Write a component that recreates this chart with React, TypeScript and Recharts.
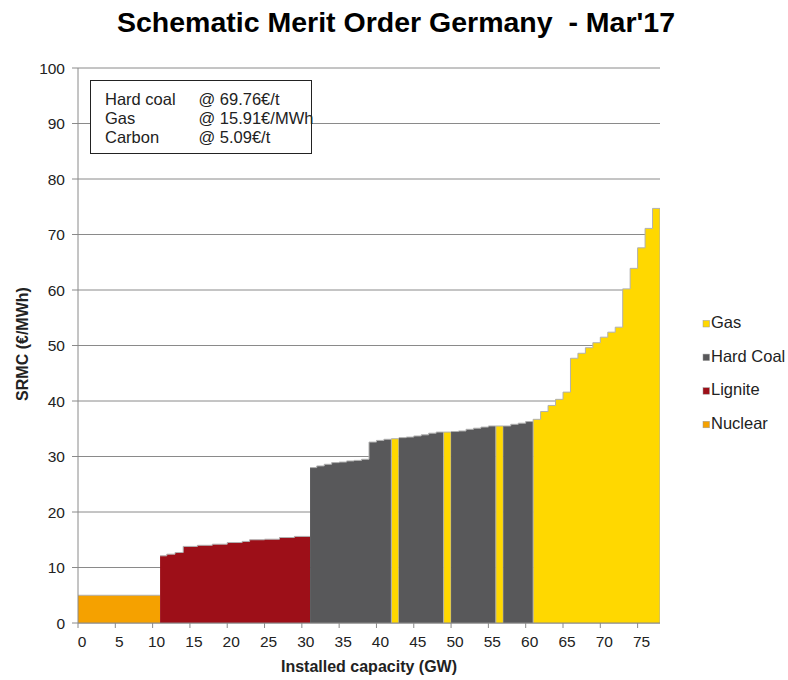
import React from 'react';
import { ComposedChart, Area, XAxis, YAxis, CartesianGrid } from 'recharts';

// Merit order units: start of each unit on the cumulative capacity axis (GW), SRMC (€/MWh) and fuel
const unitStart = [
  0,
  11.0, 11.9, 13.0, 14.1, 16.0, 18.0, 20.0, 22.0, 23.0, 25.0, 27.0, 29.0,
  31.1, 32.0, 33.0, 34.0, 35.0, 36.0, 37.0, 38.0, 39.0, 40.0, 41.0,
  42.0,
  43.0, 44.0, 45.0, 46.0, 47.0, 48.0,
  49.0,
  50.0, 51.0, 52.0, 53.0, 54.0, 55.0,
  56.0,
  57.0, 58.0, 59.0, 60.0,
  61.0, 62.0, 63.0, 64.0, 65.0, 66.0, 67.0, 68.0, 69.0, 70.0, 71.0, 72.0, 73.0, 74.0, 75.0, 76.0, 77.0,
];
const unitSrmc = [
  5.0,
  12.1, 12.4, 12.7, 13.8, 14.0, 14.2, 14.5, 14.7, 15.0, 15.1, 15.4, 15.6,
  28.0, 28.3, 28.6, 28.9, 29.0, 29.2, 29.3, 29.5, 32.6, 32.9, 33.1,
  33.2,
  33.4, 33.5, 33.7, 33.9, 34.2, 34.4,
  34.4,
  34.5, 34.6, 34.9, 35.1, 35.3, 35.5,
  35.5,
  35.5, 35.8, 36.0, 36.3,
  36.7, 38.1, 39.2, 40.3, 41.6, 47.7, 48.6, 49.6, 50.5, 51.5, 52.4, 53.3, 60.2, 63.9, 67.6, 71.1, 74.7,
];
const unitFuel = [
  'Nuclear',
  'Lignite', 'Lignite', 'Lignite', 'Lignite', 'Lignite', 'Lignite', 'Lignite', 'Lignite', 'Lignite', 'Lignite', 'Lignite', 'Lignite',
  'Hard Coal', 'Hard Coal', 'Hard Coal', 'Hard Coal', 'Hard Coal', 'Hard Coal', 'Hard Coal', 'Hard Coal', 'Hard Coal', 'Hard Coal', 'Hard Coal',
  'Gas',
  'Hard Coal', 'Hard Coal', 'Hard Coal', 'Hard Coal', 'Hard Coal', 'Hard Coal',
  'Gas',
  'Hard Coal', 'Hard Coal', 'Hard Coal', 'Hard Coal', 'Hard Coal', 'Hard Coal',
  'Gas',
  'Hard Coal', 'Hard Coal', 'Hard Coal', 'Hard Coal',
  'Gas', 'Gas', 'Gas', 'Gas', 'Gas', 'Gas', 'Gas', 'Gas', 'Gas', 'Gas', 'Gas', 'Gas', 'Gas', 'Gas', 'Gas', 'Gas', 'Gas',
];
const totalCapacity = 78.0;

const xTicks = [0, 5, 10, 15, 20, 25, 30, 35, 40, 45, 50, 55, 60, 65, 70, 75];
const yTicks = [0, 10, 20, 30, 40, 50, 60, 70, 80, 90, 100];

const legendItems = ['Gas', 'Hard Coal', 'Lignite', 'Nuclear'];
const fuelColors: Record<string, string> = {
  Gas: '#FFD800',
  'Hard Coal': '#58585A',
  Lignite: '#9D0F18',
  Nuclear: '#F5A100',
};

const boxLabels = ['Hard coal', 'Gas', 'Carbon'];
const boxPrices = ['@ 69.76€/t', '@ 15.91€/MWh', '@ 5.09€/t'];

const titleText = "Schematic Merit Order Germany  - Mar'17";
const xTitle = 'Installed capacity (GW)';
const yTitle = 'SRMC (€/MWh)';

type Pt = { x: number; y: number };
type Segment = { fuel: string; points: Pt[] };

function buildSegments(): Segment[] {
  const segs: Segment[] = [];
  let i = 0;
  while (i < unitStart.length) {
    const fuel = unitFuel[i];
    let j = i;
    while (j + 1 < unitStart.length && unitFuel[j + 1] === fuel) j++;
    const end = j + 1 < unitStart.length ? unitStart[j + 1] : totalCapacity;
    const pts: Pt[] = [];
    const edges = fuel === 'Gas';
    if (edges) pts.push({ x: unitStart[i], y: 0 });
    for (let k = i; k <= j; k++) pts.push({ x: unitStart[k], y: unitSrmc[k] });
    pts.push({ x: end, y: unitSrmc[j] });
    if (edges) pts.push({ x: end, y: 0 });
    segs.push({ fuel, points: pts });
    i = j + 1;
  }
  return segs;
}

const segments = buildSegments();
const FONT = '"Liberation Sans", Arial, sans-serif';

export default function App() {
  return (
    <div style={{ position: 'absolute', left: 0, top: 0, width: 788, height: 680, background: '#fff', fontFamily: FONT }}>
      <ComposedChart width={788} height={680} margin={{ top: 68, right: 128, left: 38, bottom: 27 }}>
        <CartesianGrid vertical={false} stroke="#8a8a8a" strokeWidth={1} />
        <XAxis
          type="number"
          dataKey="x"
          domain={[0, totalCapacity]}
          allowDataOverflow
          ticks={xTicks}
          interval={0}
          height={30}
          tickSize={5}
          tickMargin={8}
          stroke="#8a8a8a"
          tick={{ fill: '#222', fontSize: 15.5, fontFamily: FONT, dx: 4 }}
        />
        <YAxis
          type="number"
          domain={[0, 100]}
          ticks={yTicks}
          interval={0}
          width={40}
          tickSize={6}
          tickMargin={7}
          stroke="#8a8a8a"
          tick={{ fill: '#222', fontSize: 15.5, fontFamily: FONT }}
        />
        {segments.map((s, idx) => (
          <Area
            key={idx}
            data={s.points}
            dataKey="y"
            type="stepAfter"
            fill={fuelColors[s.fuel]}
            fillOpacity={1}
            stroke="#b0b0b0"
            strokeWidth={1}
            dot={false}
            activeDot={false}
            isAnimationActive={false}
          />
        ))}
      </ComposedChart>
      <svg width={788} height={680} style={{ position: 'absolute', left: 0, top: 0, pointerEvents: 'none' }}>
        <text x={396} y={32} textAnchor="middle" fontFamily={FONT} fontWeight="bold" fontSize={28.5} fill="#000" style={{ whiteSpace: 'pre' }}>
          {titleText}
        </text>
        <text x={369} y={672} textAnchor="middle" fontFamily={FONT} fontWeight="bold" fontSize={16} fill="#222">
          {xTitle}
        </text>
        <text x={22} y={344} textAnchor="middle" dominantBaseline="central" transform="rotate(-90 22 344)" fontFamily={FONT} fontWeight="bold" fontSize={16} fill="#222">
          {yTitle}
        </text>
        <rect x={90.5} y={80.5} width={221} height={73} fill="#fff" stroke="#222" strokeWidth={1} />
        {boxLabels.map((l, i) => (
          <text key={'bl' + i} x={105} y={104.5 + i * 19.2} fontFamily={FONT} fontSize={16.5} fill="#222">
            {l}
          </text>
        ))}
        {boxPrices.map((l, i) => (
          <text key={'bp' + i} x={198.5} y={104.5 + i * 19.2} fontFamily={FONT} fontSize={16.5} fill="#222">
            {l}
          </text>
        ))}
        {legendItems.map((name, i) => (
          <g key={name}>
            <rect x={703} y={320.5 + i * 33.6} width={6.5} height={6.5} fill={fuelColors[name]} stroke="#999" strokeWidth={0.5} />
            <text x={711} y={328 + i * 33.6} fontFamily={FONT} fontSize={16.5} fill="#222">
              {name}
            </text>
          </g>
        ))}
      </svg>
    </div>
  );
}
